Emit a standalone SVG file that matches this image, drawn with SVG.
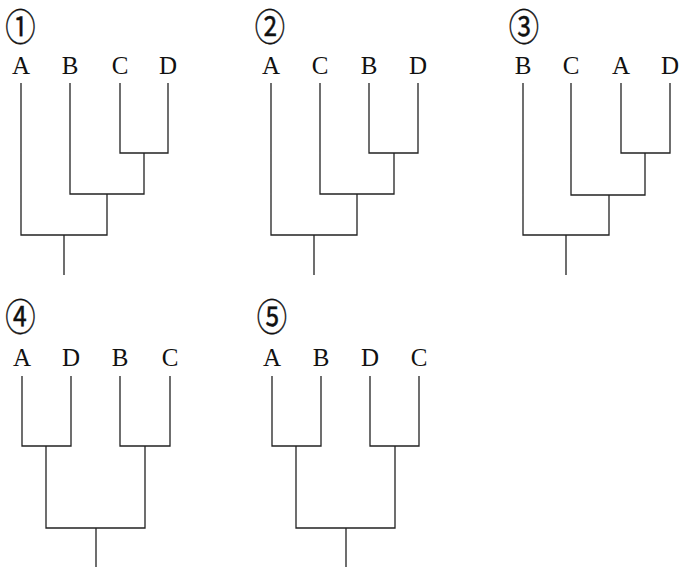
<svg xmlns="http://www.w3.org/2000/svg" width="679" height="567" viewBox="0 0 679 567">
<style>
.lbl{font-family:"Liberation Serif","Times New Roman",serif;font-size:25px;fill:#111;text-anchor:middle}
.num{font-family:"Noto Sans CJK JP","DejaVu Sans",sans-serif;font-size:37px;font-weight:normal;fill:#111;stroke:#111;stroke-width:0.4;text-anchor:middle}
.br{fill:none;stroke:#222;stroke-width:1.3}
</style>
<rect width="679" height="567" fill="#fff"/>
<g id="tree1">
<text class="num" transform="translate(20.5,41) scale(0.82,1)">①</text>
<text class="lbl" x="21" y="74">A</text>
<text class="lbl" x="70" y="74">B</text>
<text class="lbl" x="120" y="74">C</text>
<text class="lbl" x="168" y="74">D</text>
</g>
<g id="tree2">
<text class="num" transform="translate(270,41) scale(0.82,1)">②</text>
<text class="lbl" x="271" y="74">A</text>
<text class="lbl" x="320" y="74">C</text>
<text class="lbl" x="369" y="74">B</text>
<text class="lbl" x="418" y="74">D</text>
</g>
<g id="tree3">
<text class="num" transform="translate(524,41) scale(0.82,1)">③</text>
<text class="lbl" x="523" y="74">B</text>
<text class="lbl" x="571" y="74">C</text>
<text class="lbl" x="621" y="74">A</text>
<text class="lbl" x="670" y="74">D</text>
</g>
<g id="tree4">
<text class="num" transform="translate(20.5,331) scale(0.82,1)">④</text>
<text class="lbl" x="22" y="366">A</text>
<text class="lbl" x="71" y="366">D</text>
<text class="lbl" x="120" y="366">B</text>
<text class="lbl" x="170" y="366">C</text>
</g>
<g id="tree5">
<text class="num" transform="translate(272,331) scale(0.82,1)">⑤</text>
<text class="lbl" x="272" y="366">A</text>
<text class="lbl" x="321" y="366">B</text>
<text class="lbl" x="370" y="366">D</text>
<text class="lbl" x="419" y="366">C</text>
</g>
<g id="connectors" class="br">
<path d="M21,83V235H107V194M70,83V194H144V153M120,83V153H168V83M64,235V275"/>
<path d="M271,83V235H357V194M320,83V194H394V153M369,83V153H418V83M314,235V275"/>
<path d="M523,83V235H609V195M571,83V195H645V153M621,83V153H670V83M566,235V275"/>
<path d="M22,376V446H71V376M120,376V446H170V376M46,446V528H145V446M96,528V567"/>
<path d="M272,376V446H321V376M370,376V446H419V376M296,446V528H395V446M346,528V567"/>
</g>
</svg>
